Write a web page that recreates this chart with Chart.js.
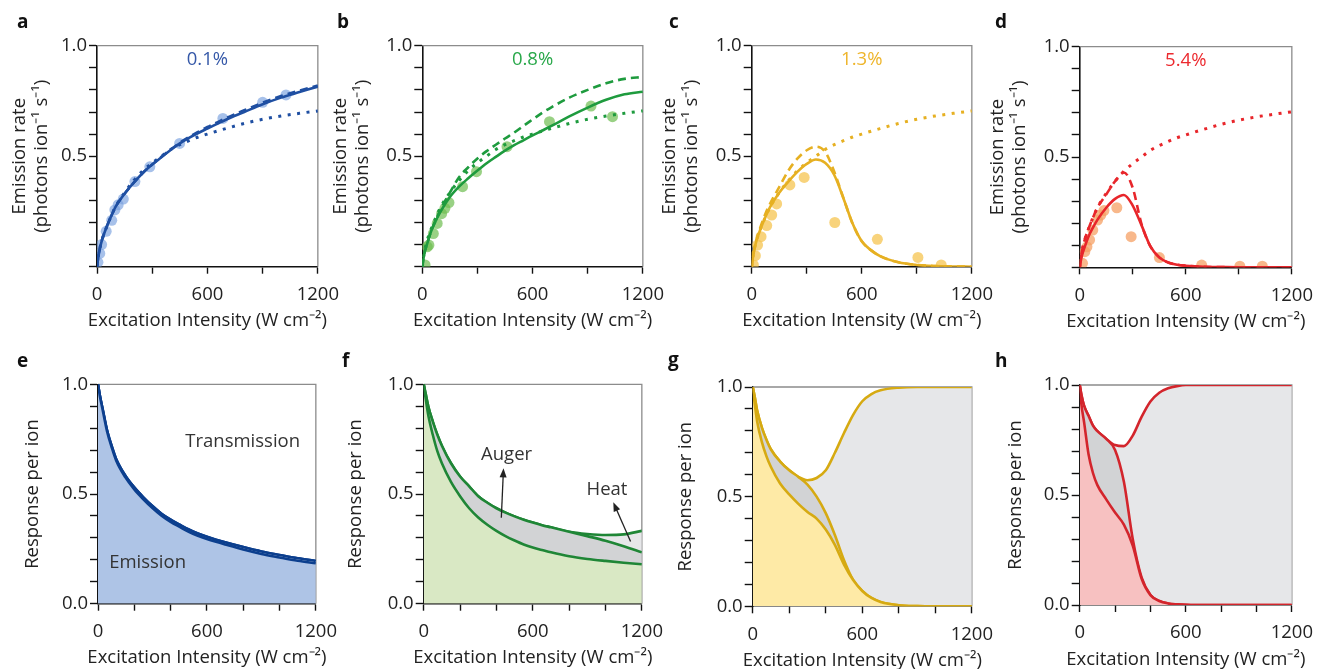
<!DOCTYPE html>
<html>
<head>
<meta charset="utf-8">
<script src="https://cdn.jsdelivr.net/npm/chart.js@4.4.1/dist/chart.umd.min.js"></script>
<style>
  body { margin: 0; background: #fff; width: 1323px; height: 669px; position: relative; overflow: hidden; }
  canvas { position: absolute; }
</style>
</head>
<body>
<canvas id="pa"></canvas><canvas id="pb"></canvas><canvas id="pc"></canvas><canvas id="pd"></canvas>
<canvas id="pe"></canvas><canvas id="pf"></canvas><canvas id="pg"></canvas><canvas id="ph"></canvas>
<script>
// excitation intensity grid used by all model curves (W cm^-2)
const intensity = [0, 10, 25, 50, 75, 100, 150, 200, 250, 300, 350, 400, 450, 500, 550, 600, 650, 700, 800, 900, 1000, 1100, 1200];

// dotted curve (no Auger), same in a-d
const noAuger = [0, .06, .115, .175, .225, .27, .335, .39, .435, .47, .50, .53, .552, .57, .587, .60, .613, .625, .648, .667, .682, .694, .705];

// a: 0.1%
const aSolid  = [0, .06, .115, .175, .225, .27, .33, .38, .425, .462, .495, .528, .558, .583, .605, .625, .645, .665, .70, .735, .765, .79, .815];
const aDashed = [0, .06, .115, .175, .225, .27, .33, .38, .425, .462, .497, .53, .561, .587, .61, .632, .652, .672, .708, .742, .772, .797, .82];
const aMeasX = [5, 15, 25, 50, 80, 97, 115, 143, 206, 287, 449, 684, 900, 1027];
const aMeasY = [0.02, 0.06, 0.10, 0.16, 0.21, 0.257, 0.28, 0.306, 0.385, 0.452, 0.558, 0.671, 0.744, 0.777];

// b: 0.8%
const bSolid  = [0, .055, .1, .165, .21, .25, .315, .362, .40, .435, .468, .497, .525, .55, .572, .594, .615, .636, .68, .72, .755, .78, .792];
const bDashed = [0, .055, .1, .165, .215, .26, .335, .405, .45, .49, .523, .552, .58, .607, .637, .666, .695, .72, .765, .80, .83, .85, .858];
const bMeasX = [15, 27, 36, 60, 81, 105, 123, 145, 219, 295, 461, 692, 918, 1035];
const bMeasY = [0.008, 0.09, 0.098, 0.15, 0.196, 0.24, 0.264, 0.29, 0.362, 0.43, 0.543, 0.656, 0.727, 0.679];

// c: 1.3%
const cSolid  = [0, .06, .115, .175, .225, .27, .335, .385, .43, .465, .485, .47, .415, .31, .195, .115, .075, .048, .02, .008, .003, .001, 0];
const cDashed = [0, .06, .12, .185, .24, .285, .36, .435, .49, .527, .543, .52, .43, .31, .195, .115, .075, .048, .02, .008, .003, .001, 0];
const cMeasX = [9, 20, 32, 51, 82, 109, 136, 208, 286, 453, 685, 906, 1033];
const cMeasY = [0.008, 0.05, 0.098, 0.136, 0.186, 0.234, 0.284, 0.37, 0.404, 0.2, 0.124, 0.042, 0.008];

// d: 5.4%
const dSolid  = [0, .045, .085, .14, .18, .215, .27, .31, .328, .28, .19, .095, .045, .022, .012, .007, .004, .002, .001, 0, 0, 0, 0];
const dDashed = [0, .06, .115, .175, .225, .27, .33, .39, .43, .36, .195, .095, .045, .022, .012, .007, .004, .002, .001, 0, 0, 0, 0];
const dMeasX = [16, 29, 41, 56, 74, 101, 119, 137, 210, 291, 451, 690, 906, 1033];
const dMeasY = [0.018, 0.071, 0.093, 0.124, 0.169, 0.214, 0.237, 0.257, 0.27, 0.139, 0.044, 0.01, 0.005, 0.005];

// e-h: response per ion (emission, + Auger, + heat)
const eEmission = [1, .948, .886, .785, .714, .653, .577, .521, .476, .436, .401, .373, .35, .328, .31, .295, .282, .27, .247, .227, .211, .196, .184];
const eTotal    = [1, .95, .89, .79, .72, .66, .585, .53, .485, .445, .41, .383, .36, .338, .32, .305, .292, .28, .258, .238, .222, .207, .195];

const fEmission = [1, .94, .86, .77, .695, .64, .555, .49, .435, .393, .36, .332, .308, .288, .27, .256, .245, .234, .216, .204, .195, .187, .18];
const fAuger    = [1, .96, .9, .83, .77, .72, .64, .58, .535, .49, .46, .435, .415, .398, .383, .37, .358, .348, .328, .308, .287, .262, .234];
const fHeat     = [1, .96, .9, .83, .77, .72, .64, .58, .535, .49, .46, .435, .415, .398, .383, .37, .358, .348, .328, .318, .313, .316, .332];

const gEmission = [1, .93, .84, .75, .685, .635, .56, .51, .467, .43, .40, .35, .28, .19, .12, .07, .038, .02, .005, .001, 0, 0, 0];
const gAuger    = [1, .96, .89, .815, .76, .715, .66, .62, .59, .555, .50, .425, .325, .21, .12, .07, .038, .02, .005, .001, 0, 0, 0];
const gHeat     = [1, .96, .89, .815, .76, .715, .66, .62, .59, .575, .585, .62, .70, .79, .873, .935, .968, .985, .997, 1, 1, 1, 1];

const hEmission = [1, .91, .83, .685, .60, .545, .48, .42, .365, .27, .12, .045, .018, .007, .003, .001, 0, 0, 0, 0, 0, 0, 0];
const hAuger    = [1, .955, .905, .86, .815, .79, .755, .705, .56, .30, .125, .045, .018, .007, .003, .001, 0, 0, 0, 0, 0, 0, 0];
const hHeat     = [1, .955, .905, .86, .815, .79, .755, .727, .722, .77, .855, .925, .965, .985, .995, 1, 1, 1, 1, 1, 1, 1, 1];

const FONT = '"Open Sans"';
const SIZE = 18.5, LH = 1.15;
const X_TITLE = 'Excitation Intensity (W cm⁻²)';
const GRAY = '#d2d3d5', LIGHT = '#e6e7e9';

const pts = (xs, ys) => xs.map((x, i) => ({ x: x, y: ys[i] }));

function curve(ys, color, extra) {
    return Object.assign({
        data: pts(intensity, ys),
        borderColor: color,
        borderWidth: 2.6,
        pointRadius: 0,
        fill: false,
        cubicInterpolationMode: 'monotone'
    }, extra || {});
}

function measured(xs, ys, color) {
    return {
        data: pts(xs, ys),
        showLine: false,
        pointRadius: 5.5,
        pointHoverRadius: 0,
        pointBorderWidth: 0,
        pointBackgroundColor: color,
        backgroundColor: color,
        borderColor: color
    };
}

function topSet(solid, dashed, meas, line, dot) {
    return [
        curve(solid, line),
        curve(dashed, line, { borderDash: [8, 5] }),
        curve(noAuger, line, { borderDash: [3, 6.5], borderWidth: 3 }),
        measured(meas[0], meas[1], dot)
    ];
}

function bottomSet(emission, auger, heat, line, fillColor, mid) {
    return [
        curve(emission, line, { fill: 'origin', backgroundColor: fillColor }),
        curve(auger, line, { fill: '-1', backgroundColor: mid || GRAY }),
        curve(heat, line, { fill: '-1', backgroundColor: LIGHT })
    ];
}

function makePanel(id, p, datasets, notes) {
    const cv = document.getElementById(id);
    cv.width = p.w; cv.height = p.h;
    cv.style.left = p.x + 'px';
    cv.style.top = p.y + 'px';
    const top = p.row === 'top';

    const decor = {
        id: 'decor',
        beforeDatasetsDraw(chart) {
            const ctx = chart.ctx, a = chart.chartArea;
            ctx.save();
            ctx.strokeStyle = '#8c8c8c';
            ctx.lineWidth = 1.3;
            ctx.beginPath();
            ctx.moveTo(a.left, a.top);
            ctx.lineTo(a.right, a.top);
            ctx.lineTo(a.right, a.bottom);
            ctx.stroke();
            ctx.restore();
        },
        afterDraw(chart) {
            const ctx = chart.ctx, a = chart.chartArea;
            const xs = chart.scales.x, ys = chart.scales.y;
            ctx.save();
            ctx.fillStyle = '#111';
            ctx.font = 'bold 19px ' + FONT;
            ctx.textAlign = 'left';
            ctx.textBaseline = 'alphabetic';
            ctx.fillText(p.tag, p.tagX - p.x, p.tagY - p.y);

            // x title drawn here so it is not squeezed to the axis width
            ctx.fillStyle = '#222';
            ctx.font = SIZE + 'px ' + FONT;
            ctx.textAlign = 'center';
            ctx.textBaseline = 'middle';
            ctx.fillText(X_TITLE, (a.left + a.right) / 2, a.bottom + 54.5);

            (notes || []).forEach(n => {
                if (n.arrow) {
                    const x0 = xs.getPixelForValue(n.arrow[0]), y0 = ys.getPixelForValue(n.arrow[1]);
                    const x1 = xs.getPixelForValue(n.arrow[2]), y1 = ys.getPixelForValue(n.arrow[3]);
                    const ang = Math.atan2(y1 - y0, x1 - x0);
                    ctx.strokeStyle = '#222';
                    ctx.fillStyle = '#222';
                    ctx.lineWidth = 1.3;
                    ctx.beginPath();
                    ctx.moveTo(x0, y0);
                    ctx.lineTo(x1 - 6 * Math.cos(ang), y1 - 6 * Math.sin(ang));
                    ctx.stroke();
                    ctx.beginPath();
                    ctx.moveTo(x1, y1);
                    ctx.lineTo(x1 - 9 * Math.cos(ang) + 3.5 * Math.sin(ang), y1 - 9 * Math.sin(ang) - 3.5 * Math.cos(ang));
                    ctx.lineTo(x1 - 9 * Math.cos(ang) - 3.5 * Math.sin(ang), y1 - 9 * Math.sin(ang) + 3.5 * Math.cos(ang));
                    ctx.closePath();
                    ctx.fill();
                    return;
                }
                ctx.fillStyle = n.color || '#333';
                ctx.font = SIZE + 'px ' + FONT;
                ctx.textAlign = 'center';
                ctx.textBaseline = 'middle';
                const x = n.center ? (a.left + a.right) / 2 : xs.getPixelForValue(n.x);
                const y = n.fromTop != null ? a.top + n.fromTop : ys.getPixelForValue(n.y);
                ctx.fillText(n.text, x, y);
            });
            ctx.restore();
        }
    };

    return new Chart(cv.getContext('2d'), {
        type: 'line',
        data: { datasets: datasets },
        options: {
            responsive: false,
            animation: false,
            events: [],
            layout: { padding: { left: 0, top: p.t - p.y, right: p.x + p.w - p.r, bottom: 0 } },
            plugins: { legend: { display: false }, tooltip: { enabled: false } },
            scales: {
                x: {
                    type: 'linear', min: 0, max: 1200, z: 1,
                    afterFit: s => { s.height = p.y + p.h - p.b; },
                    ticks: {
                        stepSize: top ? 300 : 200, autoSkip: false, maxRotation: 0,
                        padding: 10, color: '#222', font: { family: FONT, size: SIZE },
                        callback: v => (v % 600 === 0 ? String(v) : '')
                    },
                    grid: { drawOnChartArea: false, drawTicks: true, tickLength: 7, tickColor: '#111', tickWidth: 1.4 },
                    border: { color: '#111', width: 1.6 },
                    title: { display: false }
                },
                y: {
                    type: 'linear', min: 0, max: 1, z: 1,
                    afterFit: s => { s.width = p.l - p.x; },
                    ticks: {
                        stepSize: 0.1, autoSkip: false, padding: 2, color: '#222',
                        font: { family: FONT, size: SIZE },
                        callback: v => {
                            const k = Math.round(v * 10);
                            if (k % 5 !== 0) return '';
                            if (top && k === 0) return '';
                            return (k / 10).toFixed(1);
                        }
                    },
                    grid: { drawOnChartArea: false, drawTicks: true, tickLength: 8, tickColor: '#111', tickWidth: 1.4 },
                    border: { color: '#111', width: 1.6 },
                    title: {
                        display: true,
                        text: top ? ['Emission rate', '(photons ion⁻¹ s⁻¹)'] : 'Response per ion',
                        color: '#222',
                        font: { family: FONT, size: SIZE, lineHeight: LH },
                        padding: { top: p.titlePad, bottom: 0 }
                    }
                }
            }
        },
        plugins: [decor]
    });
}

// titleC: centre of the first y-title line; canvas starts left of both the tag and the title
function place(row, titleC, l, r, t, b, tag, tagX, tagY) {
    const y = row === 'top' ? 0 : 335;
    const h = row === 'top' ? 335 : 334;
    const half = SIZE * LH / 2;
    const x = Math.floor(Math.min(tagX - 4, titleC - half));
    const w = Math.min(Math.ceil(r + 30 - x), 1323 - x);
    return { row, x, y, w, h, l, r, t, b, tag, tagX, tagY, titlePad: titleC - half - x };
}

makePanel('pa', place('top', 20, 97, 318.7, 45.7, 266.7, 'a', 17, 28),
    topSet(aSolid, aDashed, [aMeasX, aMeasY], '#1f4fa2', 'rgba(120,160,222,0.65)'),
    [{ text: '0.1%', center: true, fromTop: 14.5, color: '#3558a8' }]);
makePanel('pb', place('top', 341, 422.3, 643.7, 45.7, 266.7, 'b', 337, 28),
    topSet(bSolid, bDashed, [bMeasX, bMeasY], '#1e9b3e', 'rgba(110,190,80,0.7)'),
    [{ text: '0.8%', center: true, fromTop: 14.5, color: '#29a84a' }]);
makePanel('pc', place('top', 670, 751.7, 972.3, 45.7, 266.7, 'c', 669, 28),
    topSet(cSolid, cDashed, [cMeasX, cMeasY], '#e6b022', 'rgba(246,196,80,0.75)'),
    [{ text: '1.3%', center: true, fromTop: 14.5, color: '#eeb52b' }]);
makePanel('pd', place('top', 998, 1079.7, 1300.7, 46.7, 267.3, 'd', 995, 28),
    topSet(dSolid, dDashed, [dMeasX, dMeasY], '#e8262b', 'rgba(246,160,100,0.75)'),
    [{ text: '5.4%', center: true, fromTop: 14.5, color: '#ec2a2f' }]);

makePanel('pe', place('bottom', 33, 98, 316.7, 384.3, 603.7, 'e', 17, 367),
    bottomSet(eEmission, eTotal, eTotal, '#0c3f8e', '#aec4e6', '#dfe3ea'),
    [{ text: 'Transmission', x: 797, y: 0.738 }, { text: 'Emission', x: 273, y: 0.187 }]);
makePanel('pf', place('bottom', 356, 423.7, 643, 384.3, 603.7, 'f', 342, 367),
    bottomSet(fEmission, fAuger, fHeat, '#1f8636', '#d9e8c4'),
    [{ text: 'Auger', x: 456, y: 0.678 }, { text: 'Heat', x: 1008, y: 0.518 },
     { arrow: [427, 0.392, 439, 0.617] }, { arrow: [1138, 0.283, 1043, 0.462] }]);
makePanel('pg', place('bottom', 686, 752.7, 972.3, 387, 606.3, 'g', 668, 366),
    bottomSet(gEmission, gAuger, gHeat, '#d6aa12', '#feeaa6'), []);
makePanel('ph', place('bottom', 1016, 1079.7, 1300, 385, 605, 'h', 995, 367),
    bottomSet(hEmission, hAuger, hHeat, '#d3252c', '#f7c1c1'), []);
</script>
</body>
</html>
